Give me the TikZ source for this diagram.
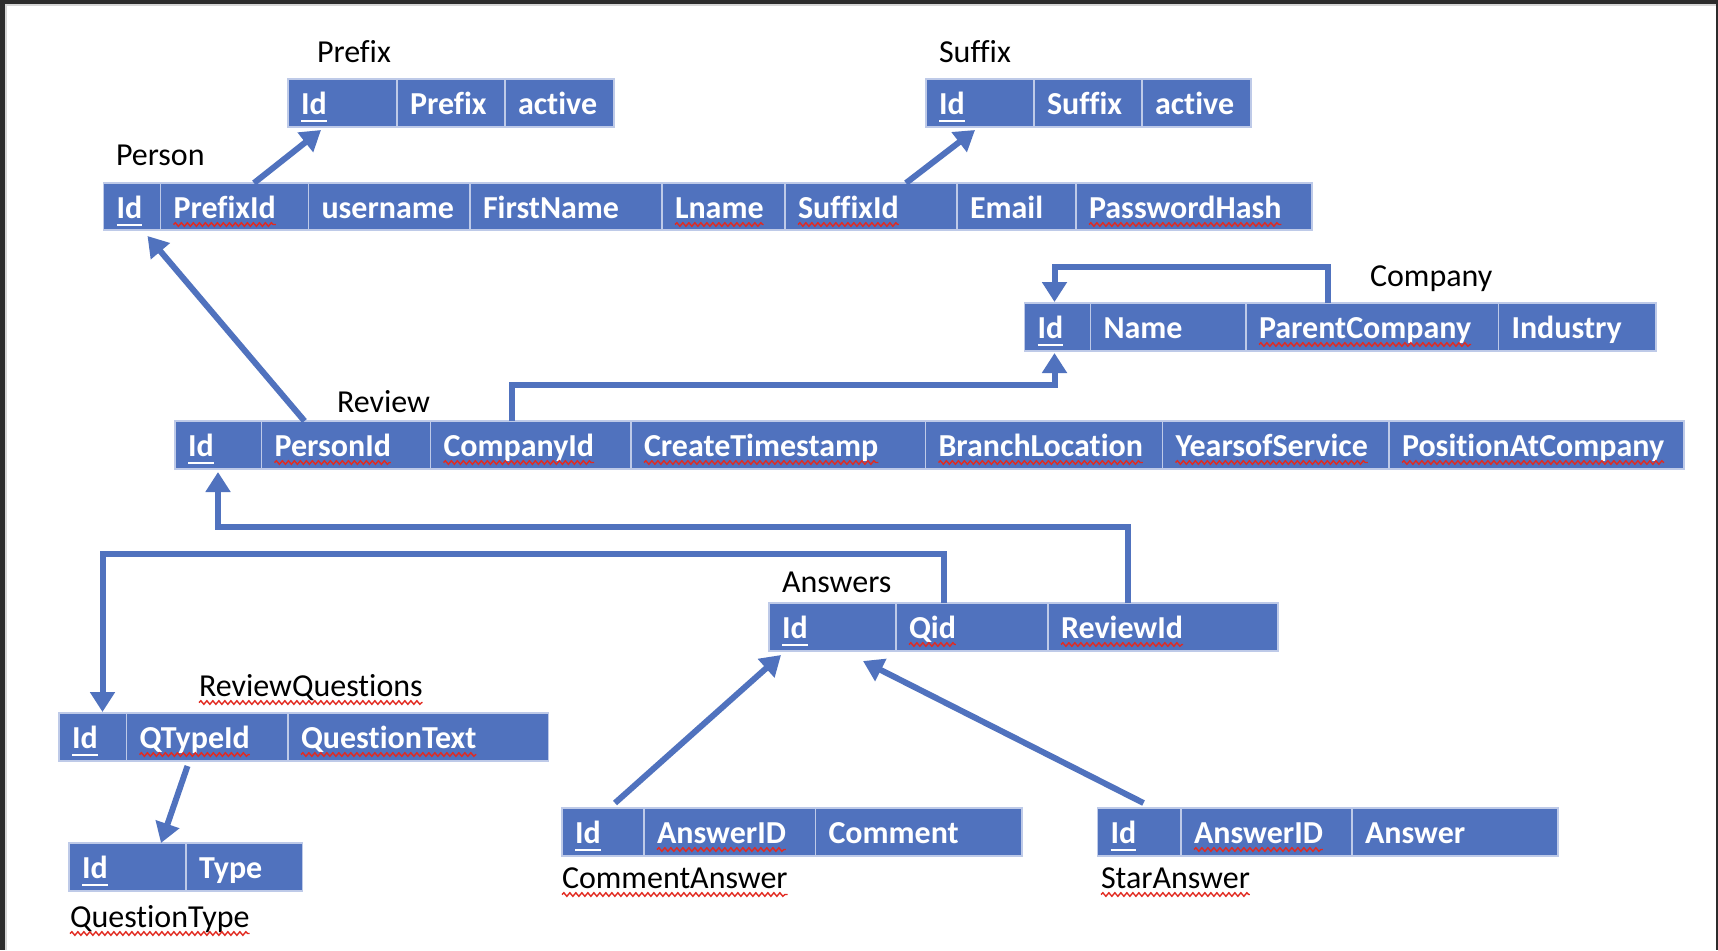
\documentclass[tikz,border=0pt]{standalone}
\usepackage{fontspec}
\setmainfont{Carlito}[Ligatures=NoCommon]
\usetikzlibrary{arrows.meta,calc,decorations.pathmorphing}
\definecolor{cellblue}{RGB}{80,114,190}
\definecolor{cellline}{RGB}{190,202,232}
\definecolor{connblue}{RGB}{80,114,190}
\definecolor{framedark}{RGB}{44,44,44}
\definecolor{framegray}{RGB}{214,214,214}
\definecolor{spellred}{RGB}{226,42,32}
\tikzset{
 cellbox/.style={rectangle, fill=cellblue, draw=cellline, line width=0.6pt, inner sep=0pt, outer sep=0pt},
 celltxt/.style={anchor=base west, inner sep=0pt, outer sep=0pt, text=white, font=\fontsize{16pt}{19pt}\selectfont\bfseries},
 lbl/.style={anchor=base west, inner sep=0pt, outer sep=0pt, text=black, font=\fontsize{16pt}{19pt}\selectfont},
 conn/.style={draw=connblue, line width=3pt, line join=miter, -{Triangle[length=10pt,width=12pt]}},
 pkul/.style={draw=white, line width=1.3pt},
 spellwave/.style={draw=spellred, line width=0.7pt, decorate, decoration={snake, segment length=3pt, amplitude=0.9pt}},
}
\newcommand\fld[6]{%
 \node[cellbox, minimum width={(#3-#2)*0.5pt}, minimum height={(#5-#4)*0.5pt}] (#1) at ({(#2+#3)/2},{(#4+#5)/2}) {};
 \node[celltxt] (#1-t) at ($(#1.north west)+(13,35)$) {#6};
}
\newcommand\pkline[1]{\draw[pkul] ($(#1.base west)+(0,7)$) -- ($(#1.base east)+(0,7)$);}
\newcommand\spell[1]{\draw[spellwave] ($(#1.base west)+(0,6.5)$) -- ($(#1.base east)+(0,6.5)$);}
\begin{document}
\begin{tikzpicture}[x=0.5pt,y=-0.5pt]
\useasboundingbox (0,0) rectangle (1718,950);
% frame
\fill[framedark] (0,0) rectangle (1718,950);
\fill[framegray] (5,4) rectangle (1716,950);
\fill[white] (7,6) rectangle (1716,950);
% Prefix
\fld{pfx-id}{288}{397}{79}{127}{Id}
\fld{pfx-prefix}{397}{505}{79}{127}{Prefix}
\fld{pfx-active}{505}{614}{79}{127}{active}
% Suffix
\fld{sfx-id}{926}{1034}{79}{127}{Id}
\fld{sfx-suffix}{1034}{1142}{79}{127}{Suffix}
\fld{sfx-active}{1142}{1251}{79}{127}{active}
% Person
\fld{per-id}{103.5}{160.5}{183}{230}{Id}
\fld{per-prefixid}{160.5}{308.5}{183}{230}{PrefixId}
\fld{per-username}{308.5}{470}{183}{230}{username}
\fld{per-firstname}{470}{662}{183}{230}{FirstName}
\fld{per-lname}{662}{785}{183}{230}{Lname}
\fld{per-suffixid}{785}{957}{183}{230}{SuffixId}
\fld{per-email}{957}{1076}{183}{230}{Email}
\fld{per-password}{1076}{1312}{183}{230}{PasswordHash}
% Company
\fld{cmp-id}{1024.5}{1090.5}{303}{351}{Id}
\fld{cmp-name}{1090.5}{1246}{303}{351}{Name}
\fld{cmp-parent}{1246}{1498.5}{303}{351}{ParentCompany}
\fld{cmp-industry}{1498.5}{1656}{303}{351}{Industry}
% Review
\fld{rev-id}{175}{261.5}{421}{469}{Id}
\fld{rev-personid}{261.5}{430.5}{421}{469}{PersonId}
\fld{rev-companyid}{430.5}{631}{421}{469}{CompanyId}
\fld{rev-created}{631}{925.5}{421}{469}{CreateTimestamp}
\fld{rev-branch}{925.5}{1162.5}{421}{469}{BranchLocation}
\fld{rev-years}{1162.5}{1389}{421}{469}{YearsofService}
\fld{rev-position}{1389}{1684}{421}{469}{PositionAtCompany}
% Answers
\fld{ans-id}{769}{896}{603}{651}{Id}
\fld{ans-qid}{896}{1048}{603}{651}{Qid}
\fld{ans-reviewid}{1048}{1278}{603}{651}{ReviewId}
% ReviewQuestions
\fld{rq-id}{59}{126.5}{713}{761}{Id}
\fld{rq-qtype}{126.5}{288}{713}{761}{QTypeId}
\fld{rq-text}{288}{548.5}{713}{761}{QuestionText}
% QuestionType
\fld{qt-id}{69}{186}{843}{891}{Id}
\fld{qt-type}{186}{302.5}{843}{891}{Type}
% CommentAnswer
\fld{ca-id}{562}{644}{808}{856}{Id}
\fld{ca-answerid}{644}{815.5}{808}{856}{AnswerID}
\fld{ca-comment}{815.5}{1022}{808}{856}{Comment}
% StarAnswer
\fld{sa-id}{1097.5}{1181}{808}{856}{Id}
\fld{sa-answerid}{1181}{1352}{808}{856}{AnswerID}
\fld{sa-answer}{1352}{1558}{808}{856}{Answer}
% table labels
\node[lbl] (lbl-prefix) at (317,62) {Prefix};
\node[lbl] (lbl-person) at (116,165) {Person};
\node[lbl] (lbl-suffix) at (939,62) {Suffix};
\node[lbl] (lbl-company) at (1370,286) {Company};
\node[lbl] (lbl-review) at (337,412) {Review};
\node[lbl] (lbl-answers) at (782,592) {Answers};
\node[lbl] (lbl-rq) at (199,696) {ReviewQuestions};
\node[lbl] (lbl-qt) at (70,927) {QuestionType};
\node[lbl] (lbl-ca) at (562,888) {CommentAnswer};
\node[lbl] (lbl-sa) at (1101,888) {StarAnswer};
% primary key underlines
\foreach \n in {pfx-id,sfx-id,per-id,cmp-id,rev-id,ans-id,rq-id,qt-id,ca-id,sa-id}{\pkline{\n-t}}
% spell-check squiggles
\foreach \n in {per-prefixid,per-lname,per-suffixid,per-password,cmp-parent,rev-personid,rev-companyid,rev-created,rev-branch,rev-years,rev-position,ans-qid,ans-reviewid,rq-qtype,rq-text,ca-answerid,sa-answerid}{\spell{\n-t}}
\foreach \n in {lbl-rq,lbl-qt,lbl-ca,lbl-sa}{\spell{\n}}
% connectors
\draw[conn] ($(per-prefixid.north west)+(93.5,0)$) -- ($(pfx-id.south west)+(33,3)$);
\draw[conn] ($(per-suffixid.north west)+(121,0)$) -- ($(sfx-id.south west)+(49,3)$);
\draw[conn] ($(rev-personid.north west)+(43,0)$) -- ($(per-id.south west)+(44,6)$);
\draw[conn] ($(rev-companyid.north west)+(81,0)$) |- ($(cmp-id.south west)+(30,34)$) -- ($(cmp-id.south west)+(30,2)$);
\draw[conn] ($(cmp-parent.north west)+(82,0)$) |- ($(cmp-id.north west)+(30,-36)$) -- ($(cmp-id.north west)+(30,-1)$);
\draw[conn] ($(ans-reviewid.north west)+(80,0)$) |- ($(rev-id.south west)+(43,58)$) -- ($(rev-id.south west)+(43,3)$);
\draw[conn] ($(ans-qid.north west)+(48,0)$) |- ($(rq-id.north west)+(43.5,-159)$) -- ($(rq-id.north west)+(43.5,-1)$);
\draw[conn] ($(rq-qtype.south west)+(61,5)$) -- ($(qt-id.north west)+(92,0)$);
\draw[conn] ($(ca-id.north west)+(53,-5)$) -- ($(ans-id.south west)+(12,4)$);
\draw[conn] ($(sa-id.north west)+(46,-5)$) -- ($(ans-id.south west)+(94,10)$);
\end{tikzpicture}
\end{document}
